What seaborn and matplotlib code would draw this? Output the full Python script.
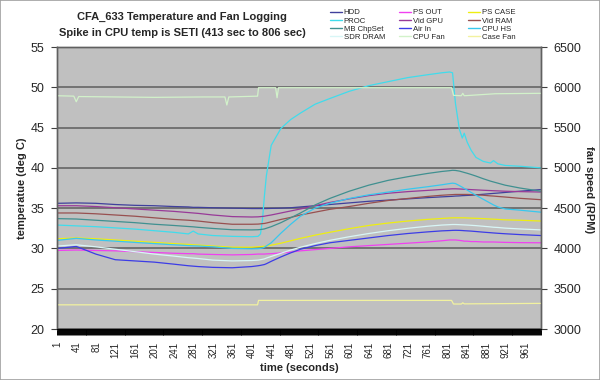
import numpy as np
import pandas as pd
import matplotlib
matplotlib.use('Agg')
import matplotlib.pyplot as plt
import seaborn as sns
from matplotlib.lines import Line2D
from matplotlib.patches import Rectangle

sns.set_style('ticks')
plt.rcParams['font.family'] = ['Liberation Sans', 'DejaVu Sans']

# ---------------- data ----------------
time_s = [1, 40, 80, 120, 160, 200, 240, 270, 280, 290,
          320, 360, 400, 413, 418, 422, 426, 430, 440, 460,
          480, 500, 530, 560, 600, 640, 680, 720, 760, 790,
          806, 812, 818, 826, 832, 836, 842, 850, 860, 875,
          890, 896, 905, 920, 950, 993]

hdd = [35.6, 35.65, 35.6, 35.45, 35.35, 35.3, 35.2, 35.15, 35.1, 35.1,
       35.05, 35.0, 34.95, 34.95, 34.95, 34.95, 34.95, 34.95, 34.97, 35.0,
       35.05, 35.15, 35.3, 35.45, 35.65, 35.85, 36.0, 36.15, 36.3, 36.4,
       36.45, 36.47, 36.5, 36.52, 36.55, 36.56, 36.58, 36.6, 36.65, 36.72,
       36.8, 36.83, 36.87, 36.95, 37.1, 37.3]
ps_out = [29.75, 29.8, 29.75, 29.7, 29.6, 29.5, 29.4, 29.35, 29.35, 29.3,
          29.25, 29.2, 29.25, 29.3, 29.3, 29.3, 29.3, 29.32, 29.35, 29.45,
          29.55, 29.7, 29.85, 30.0, 30.2, 30.35, 30.5, 30.65, 30.8, 30.95,
          31.05, 31.05, 31.05, 31.0, 30.95, 30.9, 30.9, 30.85, 30.85, 30.8,
          30.8, 30.8, 30.78, 30.75, 30.72, 30.7]
ps_case = [31.2, 31.3, 31.2, 31.05, 30.9, 30.75, 30.6, 30.5, 30.45, 30.42,
           30.3, 30.15, 30.15, 30.2, 30.22, 30.25, 30.27, 30.3, 30.4, 30.65,
           30.95, 31.25, 31.65, 32.0, 32.45, 32.85, 33.15, 33.4, 33.6, 33.72,
           33.78, 33.8, 33.8, 33.8, 33.8, 33.8, 33.78, 33.76, 33.74, 33.7,
           33.65, 33.63, 33.6, 33.55, 33.5, 33.4]
proc = [32.9, 32.8, 32.7, 32.55, 32.4, 32.2, 32.0, 31.8, 32.15, 31.8,
        31.6, 31.5, 31.45, 31.5, 31.8, 33.5, 36.5, 39.0, 42.8, 44.9,
        46.0, 46.8, 47.9, 48.6, 49.5, 50.2, 50.7, 51.2, 51.55, 51.8,
        51.9, 51.8, 48.0, 44.8, 43.7, 44.3, 43.2, 42.2, 41.3, 40.8,
        40.6, 40.9, 40.5, 40.3, 40.2, 40.0]
vid_gpu = [35.3, 35.3, 35.2, 35.05, 34.9, 34.75, 34.6, 34.45, 34.4, 34.35,
           34.15, 33.95, 33.9, 33.92, 33.95, 33.97, 34.0, 34.05, 34.15, 34.4,
           34.65, 34.9, 35.3, 35.7, 36.15, 36.55, 36.85, 37.05, 37.2, 37.32,
           37.38, 37.4, 37.4, 37.38, 37.36, 37.35, 37.33, 37.3, 37.27, 37.22,
           37.18, 37.16, 37.14, 37.1, 37.05, 37.0]
vid_ram = [34.4, 34.4, 34.3, 34.15, 34.0, 33.8, 33.6, 33.5, 33.45, 33.4,
           33.2, 33.0, 33.0, 33.02, 33.05, 33.08, 33.1, 33.15, 33.3, 33.6,
           33.85, 34.15, 34.5, 34.85, 35.2, 35.6, 35.95, 36.2, 36.45, 36.6,
           36.66, 36.68, 36.7, 36.7, 36.7, 36.7, 36.7, 36.68, 36.65, 36.6,
           36.52, 36.5, 36.45, 36.38, 36.22, 36.05]
mb_chpset = [33.7, 33.65, 33.5, 33.35, 33.2, 33.0, 32.85, 32.72, 32.68, 32.62,
             32.48, 32.32, 32.3, 32.32, 32.35, 32.38, 32.42, 32.5, 32.7, 33.2,
             33.8, 34.4, 35.4, 36.2, 37.1, 37.85, 38.45, 38.9, 39.3, 39.55,
             39.65, 39.7, 39.68, 39.6, 39.5, 39.43, 39.33, 39.18, 38.98, 38.65,
             38.35, 38.25, 38.1, 37.85, 37.5, 37.1]
air_in = [30.0, 30.25, 29.3, 28.6, 28.45, 28.3, 28.05, 27.85, 27.8, 27.75,
          27.65, 27.6, 27.75, 27.85, 27.9, 27.95, 28.0, 28.1, 28.4, 28.95,
          29.45, 29.9, 30.35, 30.7, 31.0, 31.3, 31.6, 31.85, 32.05, 32.18,
          32.22, 32.24, 32.25, 32.24, 32.22, 32.2, 32.18, 32.15, 32.1, 32.02,
          31.95, 31.92, 31.88, 31.82, 31.72, 31.6]
cpu_hs = [31.0, 31.25, 31.05, 30.9, 30.75, 30.6, 30.45, 30.35, 30.32, 30.3,
          30.2, 30.0, 29.95, 29.97, 30.0, 30.05, 30.15, 30.3, 30.7, 31.9,
          33.0, 34.0, 35.0, 35.6, 36.2, 36.65, 37.0, 37.35, 37.65, 37.9,
          38.05, 38.1, 38.05, 37.8, 37.6, 37.45, 37.25, 36.95, 36.6, 36.1,
          35.6, 35.4, 35.15, 34.9, 34.75, 34.5]
sdr_dram = [30.3, 30.45, 30.2, 29.9, 29.6, 29.3, 29.05, 28.85, 28.8, 28.75,
            28.55, 28.45, 28.5, 28.55, 28.6, 28.65, 28.7, 28.8, 29.0, 29.4,
            29.8, 30.15, 30.6, 31.0, 31.45, 31.85, 32.2, 32.5, 32.75, 32.9,
            32.95, 32.97, 32.97, 32.95, 32.93, 32.92, 32.9, 32.87, 32.83, 32.75,
            32.67, 32.63, 32.6, 32.52, 32.42, 32.3]

cpu_fan_t = [1, 35, 40, 45, 120, 200, 300, 345, 349, 353, 412, 414, 449,
             452, 455, 810, 814, 830, 833, 836, 900, 993]
cpu_fan = [5895, 5890, 5820, 5885, 5880, 5875, 5880, 5880, 5780, 5880, 5890,
           5995, 5995, 5870, 5995, 5995, 5900, 5895, 5925, 5895, 5920, 5925]
case_fan_t = [1, 412, 414, 810, 814, 830, 833, 836, 993]
case_fan = [3300, 3300, 3355, 3355, 3310, 3310, 3325, 3312, 3318]

temp_names = ['HDD', 'PS OUT', 'PS CASE', 'PROC', 'Vid GPU', 'Vid RAM',
              'MB ChpSet', 'Air In', 'CPU HS', 'SDR DRAM']
temp_vals = [hdd, ps_out, ps_case, proc, vid_gpu, vid_ram, mb_chpset,
             air_in, cpu_hs, sdr_dram]
fan_names = ['CPU Fan', 'Case Fan']
x_labels = list(range(1, 962, 40))

colors = {'HDD': '#40409c', 'PS OUT': '#f040f0', 'PS CASE': '#eeee10',
          'PROC': '#40dcec', 'Vid GPU': '#983a98', 'Vid RAM': '#985050',
          'MB ChpSet': '#409090', 'Air In': '#3c3ce6', 'CPU HS': '#38c8ee',
          'SDR DRAM': '#d8f6f6', 'CPU Fan': '#d2f2ca', 'Case Fan': '#f2f2a0'}

# ---------------- figure ----------------
fig = plt.figure(figsize=(6, 3.8), dpi=100)
fig.patch.set_facecolor('white')
ax = fig.add_axes([57/600, 1-329/380, 484/600, 282/380])
ax.set_facecolor('#c0c0c0')

temp_df = pd.concat([pd.DataFrame({'time': time_s, 'value': v, 'series': n})
                     for n, v in zip(temp_names, temp_vals)], ignore_index=True)
sns.lineplot(data=temp_df, x='time', y='value', hue='series', hue_order=temp_names,
             palette=colors, ax=ax, legend=False, lw=0.9, estimator=None)

ax.set_xlim(0.5, 993.5)
ax.set_ylim(20, 55)
ax.set_yticks(range(20, 56, 5))
ax.yaxis.grid(True, color='#5e5e5e', lw=1.1)
ax.set_axisbelow(True)
ax.set_xticks(x_labels)
ax.set_xticklabels([str(v) for v in x_labels], rotation=90, fontsize=7)
ax.set_xticks(np.arange(1, 994, 2), minor=True)
ax.tick_params(axis='x', which='both', length=4, width=0.7, color='black',
               pad=5, bottom=True)
ax.tick_params(axis='y', length=4, width=0.8, color='#404040', labelsize=9,
               pad=5, left=True)
ax.set_xlabel('')
ax.set_ylabel('')

ax2 = ax.twinx()
fan_df = pd.concat([pd.DataFrame({'time': cpu_fan_t, 'value': cpu_fan, 'series': 'CPU Fan'}),
                    pd.DataFrame({'time': case_fan_t, 'value': case_fan, 'series': 'Case Fan'})],
                   ignore_index=True)
sns.lineplot(data=fan_df, x='time', y='value', hue='series', hue_order=fan_names,
             palette=colors, ax=ax2, legend=False, lw=0.9, estimator=None)
ax2.set_ylim(3000, 6500)
ax2.set_yticks(range(3000, 6501, 500))
ax2.tick_params(axis='y', length=4, width=0.8, color='#404040', labelsize=9,
                pad=5, right=True)
ax2.set_ylabel('')
ax2.set_xlim(0.5, 993.5)

for a in (ax, ax2):
    for s in ('left', 'right', 'top'):
        a.spines[s].set_color('#606060')
        a.spines[s].set_linewidth(1.0)
    a.spines['bottom'].set_color('black')

# texts
fig.text(182/600, 1-17/380, 'CFA_633 Temperature and Fan Logging',
         ha='center', va='center', fontsize=8, fontweight='bold')
fig.text(182/600, 1-32.5/380, 'Spike in CPU temp is SETI (413 sec to 806 sec)',
         ha='center', va='center', fontsize=8, fontweight='bold')
fig.text(22/600, 1-188/380, 'temperatue (deg C)', rotation=90,
         ha='center', va='center', fontsize=8, fontweight='bold')
fig.text(589/600, 1-190/380, 'fan speed (RPM)', rotation=270,
         ha='center', va='center', fontsize=8, fontweight='bold')
fig.text(299/600, 1-368/380, 'time (seconds)',
         ha='center', va='center', fontsize=8, fontweight='bold')

# legend: three columns, row-major series order
order = ['HDD', 'PS OUT', 'PS CASE', 'PROC', 'Vid GPU', 'Vid RAM',
         'MB ChpSet', 'Air In', 'CPU HS', 'SDR DRAM', 'CPU Fan', 'Case Fan']
col_x = [330, 399, 468]
for c in range(3):
    names = order[c::3]
    handles = [Line2D([], [], color=colors[n], lw=1.0) for n in names]
    fig.legend(handles, names, loc='upper left',
               bbox_to_anchor=(col_x[c]/600, 1-9/380), frameon=False,
               fontsize=5.6, handlelength=1.5, handletextpad=0.25,
               labelspacing=0.1, borderpad=0, borderaxespad=0)

fig.patches.append(Rectangle((0, 0), 1, 1, transform=fig.transFigure,
                             fill=False, ec='#a0a0a0', lw=1.2))

fig.savefig('out.png', dpi=100)
